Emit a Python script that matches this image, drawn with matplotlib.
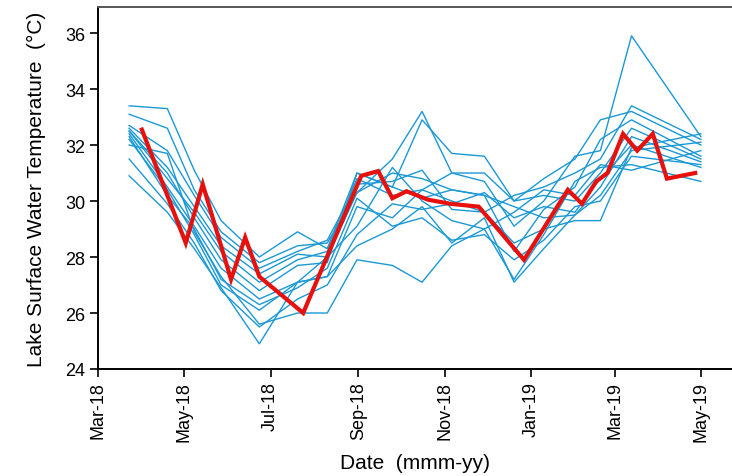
import numpy as np
import pandas as pd
import matplotlib
matplotlib.use("Agg")
import matplotlib.pyplot as plt
import matplotlib.dates as mdates

plt.rcParams['font.family'] = ['Liberation Sans', 'DejaVu Sans']

# sampling dates shared by the blue (individual site) series
blue_dates = pd.to_datetime([
    "2018-03-23", "2018-04-19", "2018-05-08", "2018-05-27", "2018-06-23",
    "2018-07-20", "2018-08-10", "2018-08-31", "2018-09-25", "2018-10-16",
    "2018-11-06", "2018-11-29", "2018-12-20", "2019-01-10", "2019-02-01",
    "2019-02-19", "2019-03-13", "2019-05-01",
])

site_01 = [33.4, 33.3, 31.1, 29.3, 28.0, 28.9, 28.3, 31.0, 30.5, 32.9, 31.7, 31.6, 30.0, 30.8, 31.5, 32.9, 33.2, 32.0]
site_02 = [33.1, 32.6, 30.4, 28.9, 27.8, 28.4, 28.5, 30.3, 31.5, 33.2, 31.0, 30.7, 29.1, 30.0, 31.6, 31.8, 35.9, 32.3]
site_03 = [32.7, 31.8, 30.2, 28.7, 27.6, 28.2, 28.6, 30.6, 30.7, 31.1, 29.7, 29.6, 30.2, 30.5, 31.0, 31.5, 33.4, 32.2]
site_04 = [32.6, 31.2, 29.8, 28.4, 27.4, 28.1, 28.0, 30.3, 31.0, 30.8, 30.4, 30.2, 28.2, 29.7, 30.5, 32.2, 32.9, 31.6]
site_05 = [32.5, 30.8, 29.6, 28.2, 27.1, 27.9, 28.2, 30.8, 30.2, 30.4, 31.0, 31.0, 30.0, 30.2, 30.0, 31.0, 32.6, 31.5]
site_06 = [32.5, 31.0, 29.4, 27.9, 26.8, 27.7, 27.8, 31.0, 30.5, 30.1, 30.4, 30.2, 29.8, 29.4, 29.5, 30.5, 32.3, 31.4]
site_07 = [32.4, 30.5, 29.1, 27.6, 26.5, 27.1, 27.3, 29.8, 29.4, 30.4, 30.0, 29.6, 28.5, 29.0, 29.3, 29.3, 31.9, 32.4]
site_08 = [32.3, 30.2, 29.0, 27.2, 26.3, 26.9, 27.6, 30.1, 29.1, 29.4, 28.6, 28.8, 27.9, 28.6, 29.8, 30.0, 31.6, 31.3]
site_09 = [32.2, 30.4, 28.8, 27.0, 26.1, 27.1, 28.0, 29.1, 31.2, 30.0, 29.3, 29.0, 27.2, 28.8, 30.7, 31.2, 31.3, 30.7]
site_10 = [32.0, 31.7, 28.9, 27.3, 25.6, 26.0, 26.0, 27.9, 27.7, 27.1, 28.4, 29.0, 29.6, 30.4, 30.2, 31.3, 31.1, 31.8]
site_11 = [31.5, 29.9, 28.5, 26.8, 25.5, 26.5, 27.0, 28.8, 29.9, 29.7, 29.9, 30.3, 29.4, 29.8, 29.6, 30.8, 32.0, 31.2]
site_12 = [30.9, 29.6, 28.3, 26.9, 24.9, 27.1, 27.3, 28.4, 29.0, 29.8, 28.5, 29.4, 27.1, 28.3, 29.5, 30.2, 31.8, 32.1]

sites = [site_01, site_02, site_03, site_04, site_05, site_06,
         site_07, site_08, site_09, site_10, site_11, site_12]

# highlighted (red) series
red_dates = pd.to_datetime([
    "2018-04-01", "2018-05-02", "2018-05-14", "2018-06-03", "2018-06-13",
    "2018-06-23", "2018-07-24", "2018-09-03", "2018-09-15", "2018-09-25",
    "2018-10-05", "2018-10-20", "2018-11-05", "2018-11-25", "2018-12-27",
    "2019-01-27", "2019-02-06", "2019-02-16", "2019-02-24", "2019-03-07",
    "2019-03-17", "2019-03-28", "2019-04-07", "2019-04-27",
])
red_temp = [32.55, 28.5, 30.6, 27.2, 28.7, 27.3, 26.0, 30.9, 31.07, 30.1,
            30.35, 30.05, 29.9, 29.8, 27.9, 30.4, 29.9, 30.7, 31.0, 32.4,
            31.8, 32.4, 30.8, 31.0]

fig = plt.figure(figsize=(7.32, 4.77), dpi=100)
ax = fig.add_axes([98 / 732, 107 / 477, 1 - 98 / 732, 362 / 477])

for s in sites:
    ax.plot(blue_dates, s, color='#1a98d5', linewidth=1.0)
ax.plot(red_dates, red_temp, color='#e8100c', linewidth=3.0, solid_joinstyle='miter')

ax.set_xlim(pd.Timestamp("2018-03-01"), pd.Timestamp("2019-05-23"))
ax.set_ylim(24, 36.93)
ax.set_yticks([24, 26, 28, 30, 32, 34, 36])

ax.xaxis.set_major_locator(mdates.MonthLocator(bymonth=[1, 3, 5, 7, 9, 11]))
ax.xaxis.set_major_formatter(mdates.DateFormatter('%b-%y'))
plt.setp(ax.get_xticklabels(), rotation=90)

ax.tick_params(axis='both', labelsize=13, length=6, width=1.2, direction='out', pad=3)
ax.spines['right'].set_visible(False)
ax.spines['left'].set_linewidth(1.4)
ax.spines['bottom'].set_linewidth(1.4)
ax.spines['top'].set_linewidth(1.4)
ax.spines['top'].set_color('#555555')

ax.set_xlabel('Date  (mmm-yy)', fontsize=15, labelpad=8)
ax.set_ylabel('Lake Surface Water Temperature  (°C)', fontsize=15, labelpad=14)

fig.savefig('out.png', dpi=100)
